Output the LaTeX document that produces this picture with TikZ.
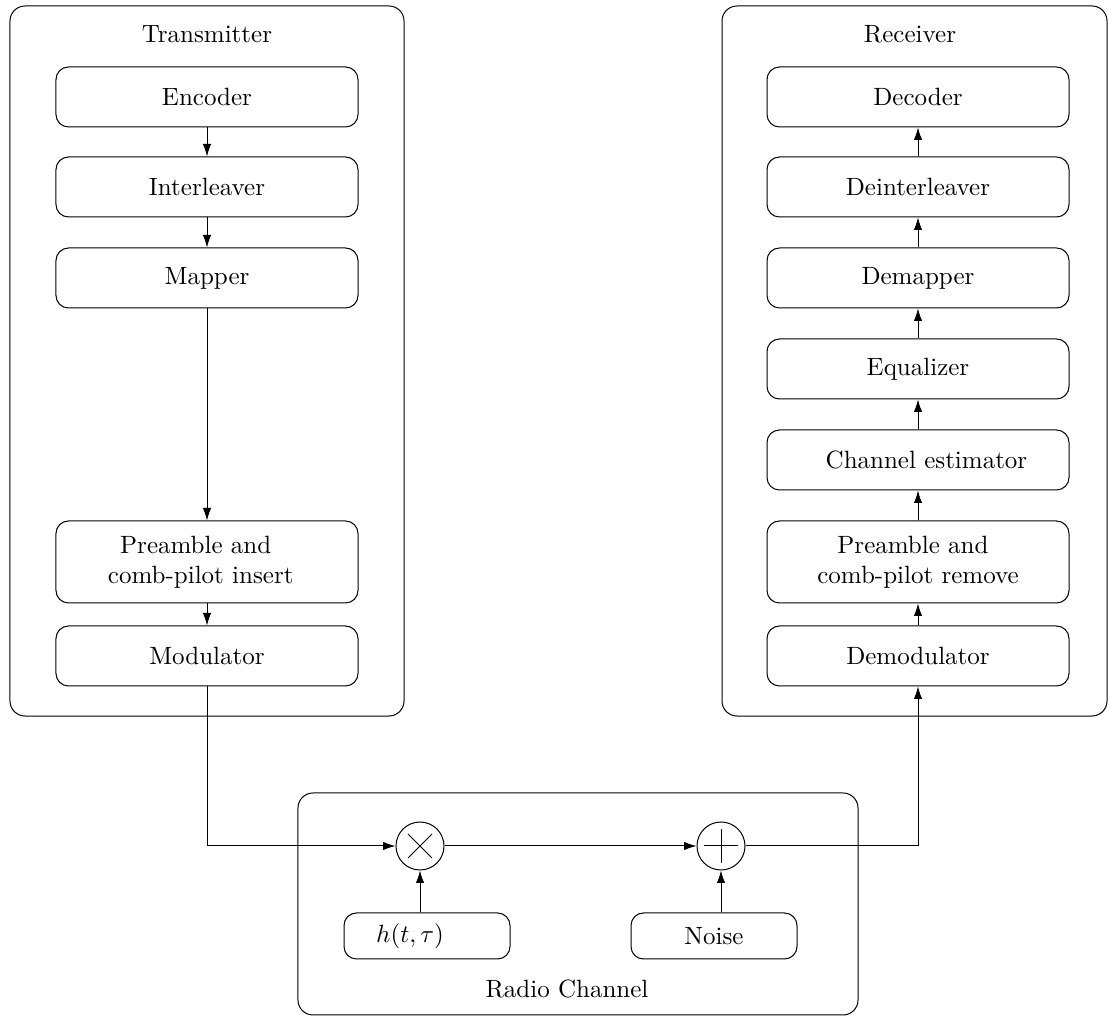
\documentclass[tikz,border=0pt]{standalone}
\usetikzlibrary{arrows.meta,calc}
\begin{document}
\begin{tikzpicture}[x=0.4pt,y=-0.4pt,
  every node/.style={font=\normalsize},
  outerbox/.style={draw, rounded corners=6pt, inner sep=0pt},
  blk/.style={draw, rounded corners=5pt, minimum width=120.8pt, minimum height=24pt, inner sep=0pt, align=center},
  tallblk/.style={blk, minimum height=32.8pt},
  srcblk/.style={draw, rounded corners=5pt, minimum width=66.4pt, minimum height=18.4pt, inner sep=0pt},
  opnode/.style={draw, circle, minimum size=19.2pt, inner sep=0pt},
  titletext/.style={anchor=base, inner sep=0pt},
  arr/.style={-{Latex[length=5pt,width=3.4pt]}}
]
\useasboundingbox (0,0) rectangle (1108,1017);

% outer frames
\node[outerbox, minimum width=157.6pt, minimum height=284pt] (txbox) at (207,361) {};
\node[outerbox, minimum width=154pt, minimum height=284pt] (rxbox) at (914.5,361) {};
\node[outerbox, minimum width=224pt, minimum height=88.8pt] (chbox) at (578,904) {};

\node[titletext] (txtitle) at (207,42.5) {Transmitter};
\node[titletext] (rxtitle) at (910,43) {Receiver};
\node[titletext] (chtitle) at (567,998) {Radio Channel};

% transmitter
\node[blk] (enc) at (207,97) {Encoder};
\node[blk] (intl) at (207,187) {Interleaver};
\node[blk] (map) at (207,278) {Mapper};
\node[tallblk] (pins) at (207,562) {Preamble and\hspace*{9pt}\\comb-pilot insert\hspace*{5pt}};
\node[blk] (mod) at (207,656) {Modulator};

% receiver
\node[blk] (dec) at (918,97) {Decoder};
\node[blk] (dintl) at (918,187) {Deinterleaver};
\node[blk] (dmap) at (918,278) {Demapper};
\node[blk] (eq) at (918,369) {Equalizer};
\node[blk] (chest) at (918,460) {\hspace*{6.8pt}Channel estimator};
\node[tallblk] (prem) at (918,562) {Preamble and\hspace*{4pt}\\comb-pilot remove};
\node[blk] (demod) at (918,656) {Demodulator};

% channel
\node[opnode] (mult) at (420,846) {};
\node[opnode] (add) at (721,846) {};
\node[srcblk] (hbox) at (427,936) {$h(t,\tau)$\hspace*{13.6pt}};
\node[srcblk] (noise) at (714,936) {Noise};

\draw ([shift={(-12,-12)}]mult.center) -- ([shift={(12,12)}]mult.center);
\draw ([shift={(-12,12)}]mult.center) -- ([shift={(12,-12)}]mult.center);
\draw ([shift={(-17,0)}]add.center) -- ([shift={(17,0)}]add.center);
\draw ([shift={(0,-17)}]add.center) -- ([shift={(0,17)}]add.center);

% connectors
\draw[arr] (enc) -- (intl);
\draw[arr] (intl) -- (map);
\draw[arr] (map) -- (pins);
\draw[arr] (pins) -- (mod);
\draw[arr] (mod.south) |- (mult);
\draw[arr] (mult) -- (add);
\draw[arr] (add) -| (demod.south);
\draw[arr] (hbox.north -| mult) -- (mult);
\draw[arr] (noise.north -| add) -- (add);

\draw[arr] (demod) -- (prem);
\draw[arr] (prem) -- (chest);
\draw[arr] (chest) -- (eq);
\draw[arr] (eq) -- (dmap);
\draw[arr] (dmap) -- (dintl);
\draw[arr] (dintl) -- (dec);
\end{tikzpicture}
\end{document}
